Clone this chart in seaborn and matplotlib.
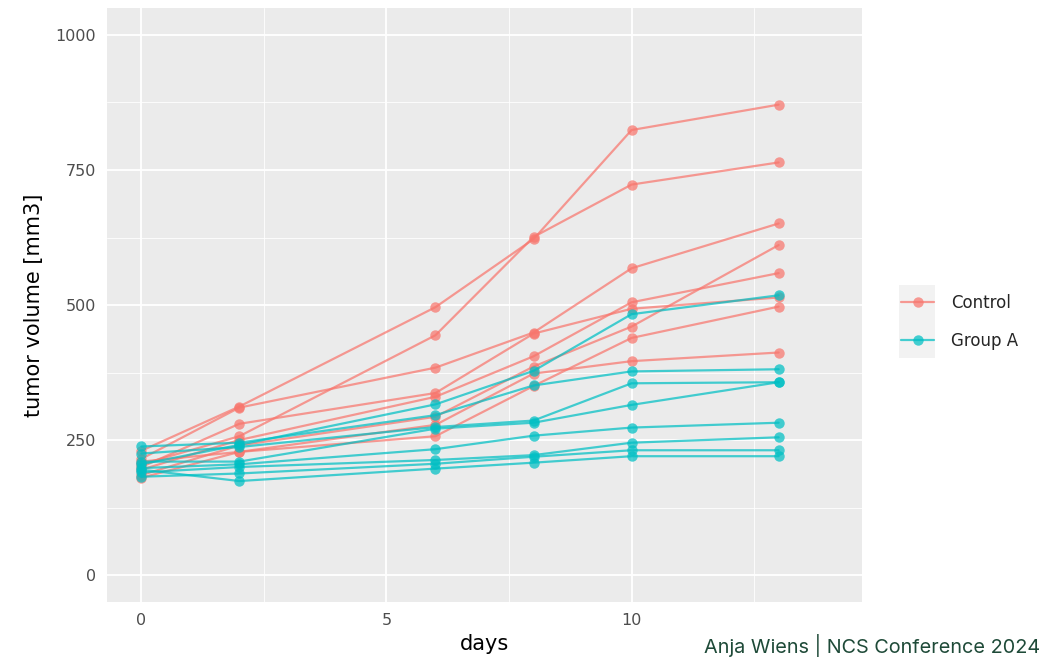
import numpy as np
import pandas as pd
import seaborn as sns
import matplotlib.pyplot as plt
from matplotlib.lines import Line2D
from matplotlib.patches import Rectangle

days = [0, 2, 6, 8, 10, 13]

control = {
    "C1": [230, 312, 496, 622, 824, 871],
    "C2": [205, 257, 444, 626, 723, 764],
    "C3": [215, 310, 384, 449, 568, 651],
    "C4": [200, 280, 337, 447, 493, 514],
    "C5": [195, 250, 330, 405, 505, 559],
    "C6": [185, 240, 293, 386, 460, 611],
    "C7": [210, 228, 278, 373, 396, 412],
    "C8": [180, 228, 257, 350, 439, 497],
}

group_a = {
    "A1": [205, 241, 316, 378, 483, 518],
    "A2": [238, 245, 296, 351, 377, 381],
    "A3": [225, 237, 274, 286, 355, 357],
    "A4": [210, 210, 271, 282, 315, 357],
    "A5": [198, 205, 233, 258, 273, 282],
    "A6": [190, 200, 213, 222, 245, 255],
    "A7": [182, 188, 206, 219, 231, 231],
    "A8": [195, 174, 197, 208, 220, 220],
}

groups = ["Control", "Group A"]
colors = ["#F8766D", "#00BFC4"]

rows = []
for grp, series in zip(groups, [control, group_a]):
    for mouse, vals in series.items():
        for d, v in zip(days, vals):
            rows.append({"day": d, "volume": v, "group": grp, "mouse": mouse})
df = pd.DataFrame(rows)

sns.set_theme(style="darkgrid")
plt.rcParams["font.family"] = ["DejaVu Sans"]

fig = plt.figure(figsize=(10.48, 6.57), dpi=100)
ax = fig.add_axes([107 / 1048, 1 - 602 / 657, (862 - 107) / 1048, (602 - 8) / 657])
ax.set_facecolor("#EBEBEB")

sns.lineplot(
    data=df, x="day", y="volume", hue="group", units="mouse", estimator=None,
    palette=dict(zip(groups, colors)), marker="o", markersize=7.5,
    markeredgewidth=0, linewidth=1.6, alpha=0.72, legend=False, ax=ax,
)

ax.set_xlim(-0.7, 14.7)
ax.set_ylim(-50, 1050)
ax.set_xticks([0, 5, 10])
ax.set_xticks([2.5, 7.5, 12.5], minor=True)
ax.set_yticks([0, 250, 500, 750, 1000])
ax.set_yticks([125, 375, 625, 875], minor=True)
ax.grid(which="major", color="white", linewidth=1.3)
ax.grid(which="minor", color="white", linewidth=0.6)
ax.set_axisbelow(True)
for s in ax.spines.values():
    s.set_visible(False)
ax.tick_params(axis="both", which="major", length=4, width=1, color="#333333",
               labelsize=11.5, labelcolor="#4D4D4D", pad=4)
ax.tick_params(axis="both", which="minor", length=0)
ax.set_xlabel("days", fontsize=15, color="black", labelpad=4)
ax.set_ylabel("tumor volume [mm3]", fontsize=15, color="black", labelpad=8)

# legend keys with grey background
fig.patches.append(Rectangle((899 / 1048, 1 - 358 / 657), 36 / 1048, 73 / 657,
                             transform=fig.transFigure, facecolor="#F2F2F2",
                             edgecolor="none", zorder=0))
handles = [Line2D([0], [0], color=c, marker="o", markersize=7.5, markeredgewidth=0,
                  linewidth=1.6, alpha=0.72) for c in colors]
fig.legend(handles, groups, loc="center left", bbox_to_anchor=(901 / 1048, 1 - 321.5 / 657),
           frameon=False, fontsize=12, handlelength=2.0, handletextpad=1.0,
           labelspacing=1.2, borderaxespad=0, borderpad=0)

fig.text(704 / 1048, 1 - 646 / 657, "Anja Wiens | NCS Conference 2024",
         fontsize=14.3, color="#1E4A38", va="center", ha="left", family=["Inter", "DejaVu Sans"])

fig.savefig("out.png", dpi=100, facecolor="white")
